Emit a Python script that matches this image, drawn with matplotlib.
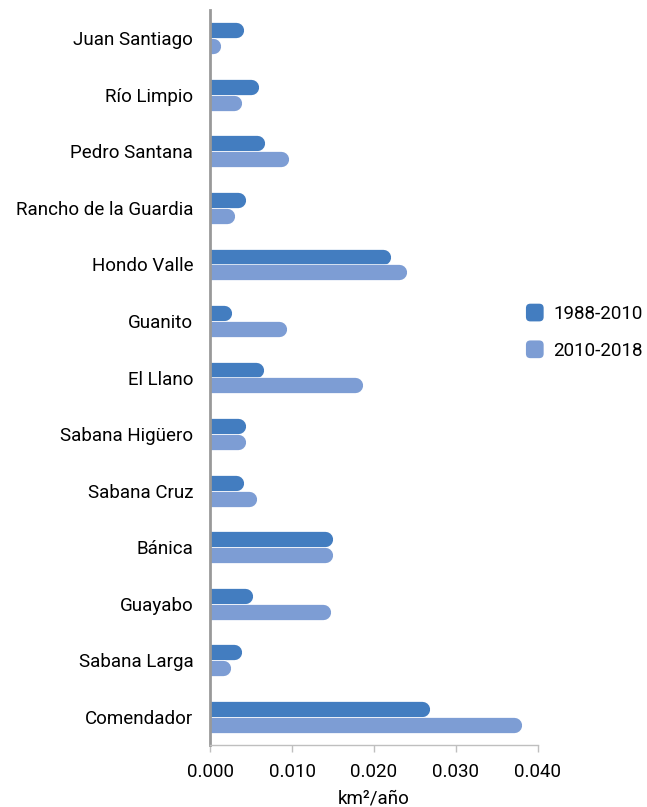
import matplotlib
matplotlib.use("Agg")
import matplotlib.pyplot as plt
import matplotlib.patheffects as pe
from matplotlib.patches import FancyBboxPatch, Patch
from matplotlib.legend_handler import HandlerPatch

plt.rcParams["font.family"] = ["Roboto", "DejaVu Sans"]

# data (km²/año), top to bottom
categories = ["Juan Santiago", "Río Limpio", "Pedro Santana", "Rancho de la Guardia",
              "Hondo Valle", "Guanito", "El Llano", "Sabana Higüero", "Sabana Cruz",
              "Bánica", "Guayabo", "Sabana Larga", "Comendador"]
s1988_2010 = [0.0041, 0.0059, 0.0067, 0.0044, 0.0220, 0.0026, 0.0065,
              0.0043, 0.0041, 0.0150, 0.0052, 0.0039, 0.0268]
s2010_2018 = [0.0013, 0.0039, 0.0096, 0.0030, 0.0240, 0.0094, 0.0186,
              0.0043, 0.0057, 0.0150, 0.0147, 0.0025, 0.0380]
series_names = ["1988-2010", "2010-2018"]
colors = ["#437dc0", "#7d9dd4"]
xticks = [0.0, 0.01, 0.02, 0.03, 0.04]


class RoundSquare(HandlerPatch):
    def create_artists(self, legend, orig_handle, xdescent, ydescent, width, height, fontsize, trans):
        s = height * 1.35
        x0 = xdescent + (width - s) / 2
        y0 = -ydescent + (height - s) / 2
        p = FancyBboxPatch((x0, y0), s, s, boxstyle=f"round,pad=0,rounding_size={s * 0.25}",
                           facecolor=orig_handle.get_facecolor(), edgecolor="none", transform=trans)
        return [p]


fig = plt.figure(figsize=(6.47, 8.07), dpi=100)
ax = fig.add_axes([0.3246, 0.0768, 0.8315 - 0.3246, 0.9876 - 0.0768])
ax.set_xlim(0, 0.04)
ax.set_ylim(len(categories) - 0.5, -0.5)

bar_h = 0.27
fig.canvas.draw()
# bar thickness in points, and cap radius in data units
px_per_y = ax.transData.transform((0, 0))[1] - ax.transData.transform((0, 1))[1]
lw_pt = abs(px_per_y) * bar_h * 72 / fig.dpi
px_per_x = ax.transData.transform((1, 0))[0] - ax.transData.transform((0, 0))[0]
r = abs(px_per_y) * bar_h / 2 / px_per_x

for k, (vals, col) in enumerate(zip([s1988_2010, s2010_2018], colors)):
    off = (k - 0.5) * (bar_h + 0.01)
    for i, v in enumerate(vals):
        ax.plot([-r, v - r], [i + off, i + off], color=col, lw=lw_pt,
                solid_capstyle="round", clip_on=True,
                path_effects=[pe.Stroke(linewidth=lw_pt + 1, foreground="white"), pe.Normal()])

ax.set_yticks(range(len(categories)))
ax.set_yticklabels(categories, fontsize=13.5)
ax.set_xticks(xticks)
ax.set_xticklabels([f"{t:.3f}" for t in xticks], fontsize=13.5)
ax.tick_params(axis="y", length=0, pad=12)
ax.tick_params(axis="x", length=5, width=1, color="#bfbfbf", pad=8)
ax.set_xlabel("km²/año", fontsize=13.5, labelpad=6)

for s in ["top", "right"]:
    ax.spines[s].set_visible(False)
ax.spines["left"].set_color("#999999")
ax.spines["left"].set_linewidth(2)
ax.spines["bottom"].set_color("#bfbfbf")
ax.spines["bottom"].set_linewidth(1)

handles = [Patch(facecolor=c) for c in colors]
fig.legend(handles, series_names, loc="center left", bbox_to_anchor=(0.786, 0.588),
           frameon=False, fontsize=13.5, handletextpad=0.5, labelspacing=1.0,
           handlelength=1.0, handler_map={Patch: RoundSquare()})

fig.savefig("out.png", dpi=100)
